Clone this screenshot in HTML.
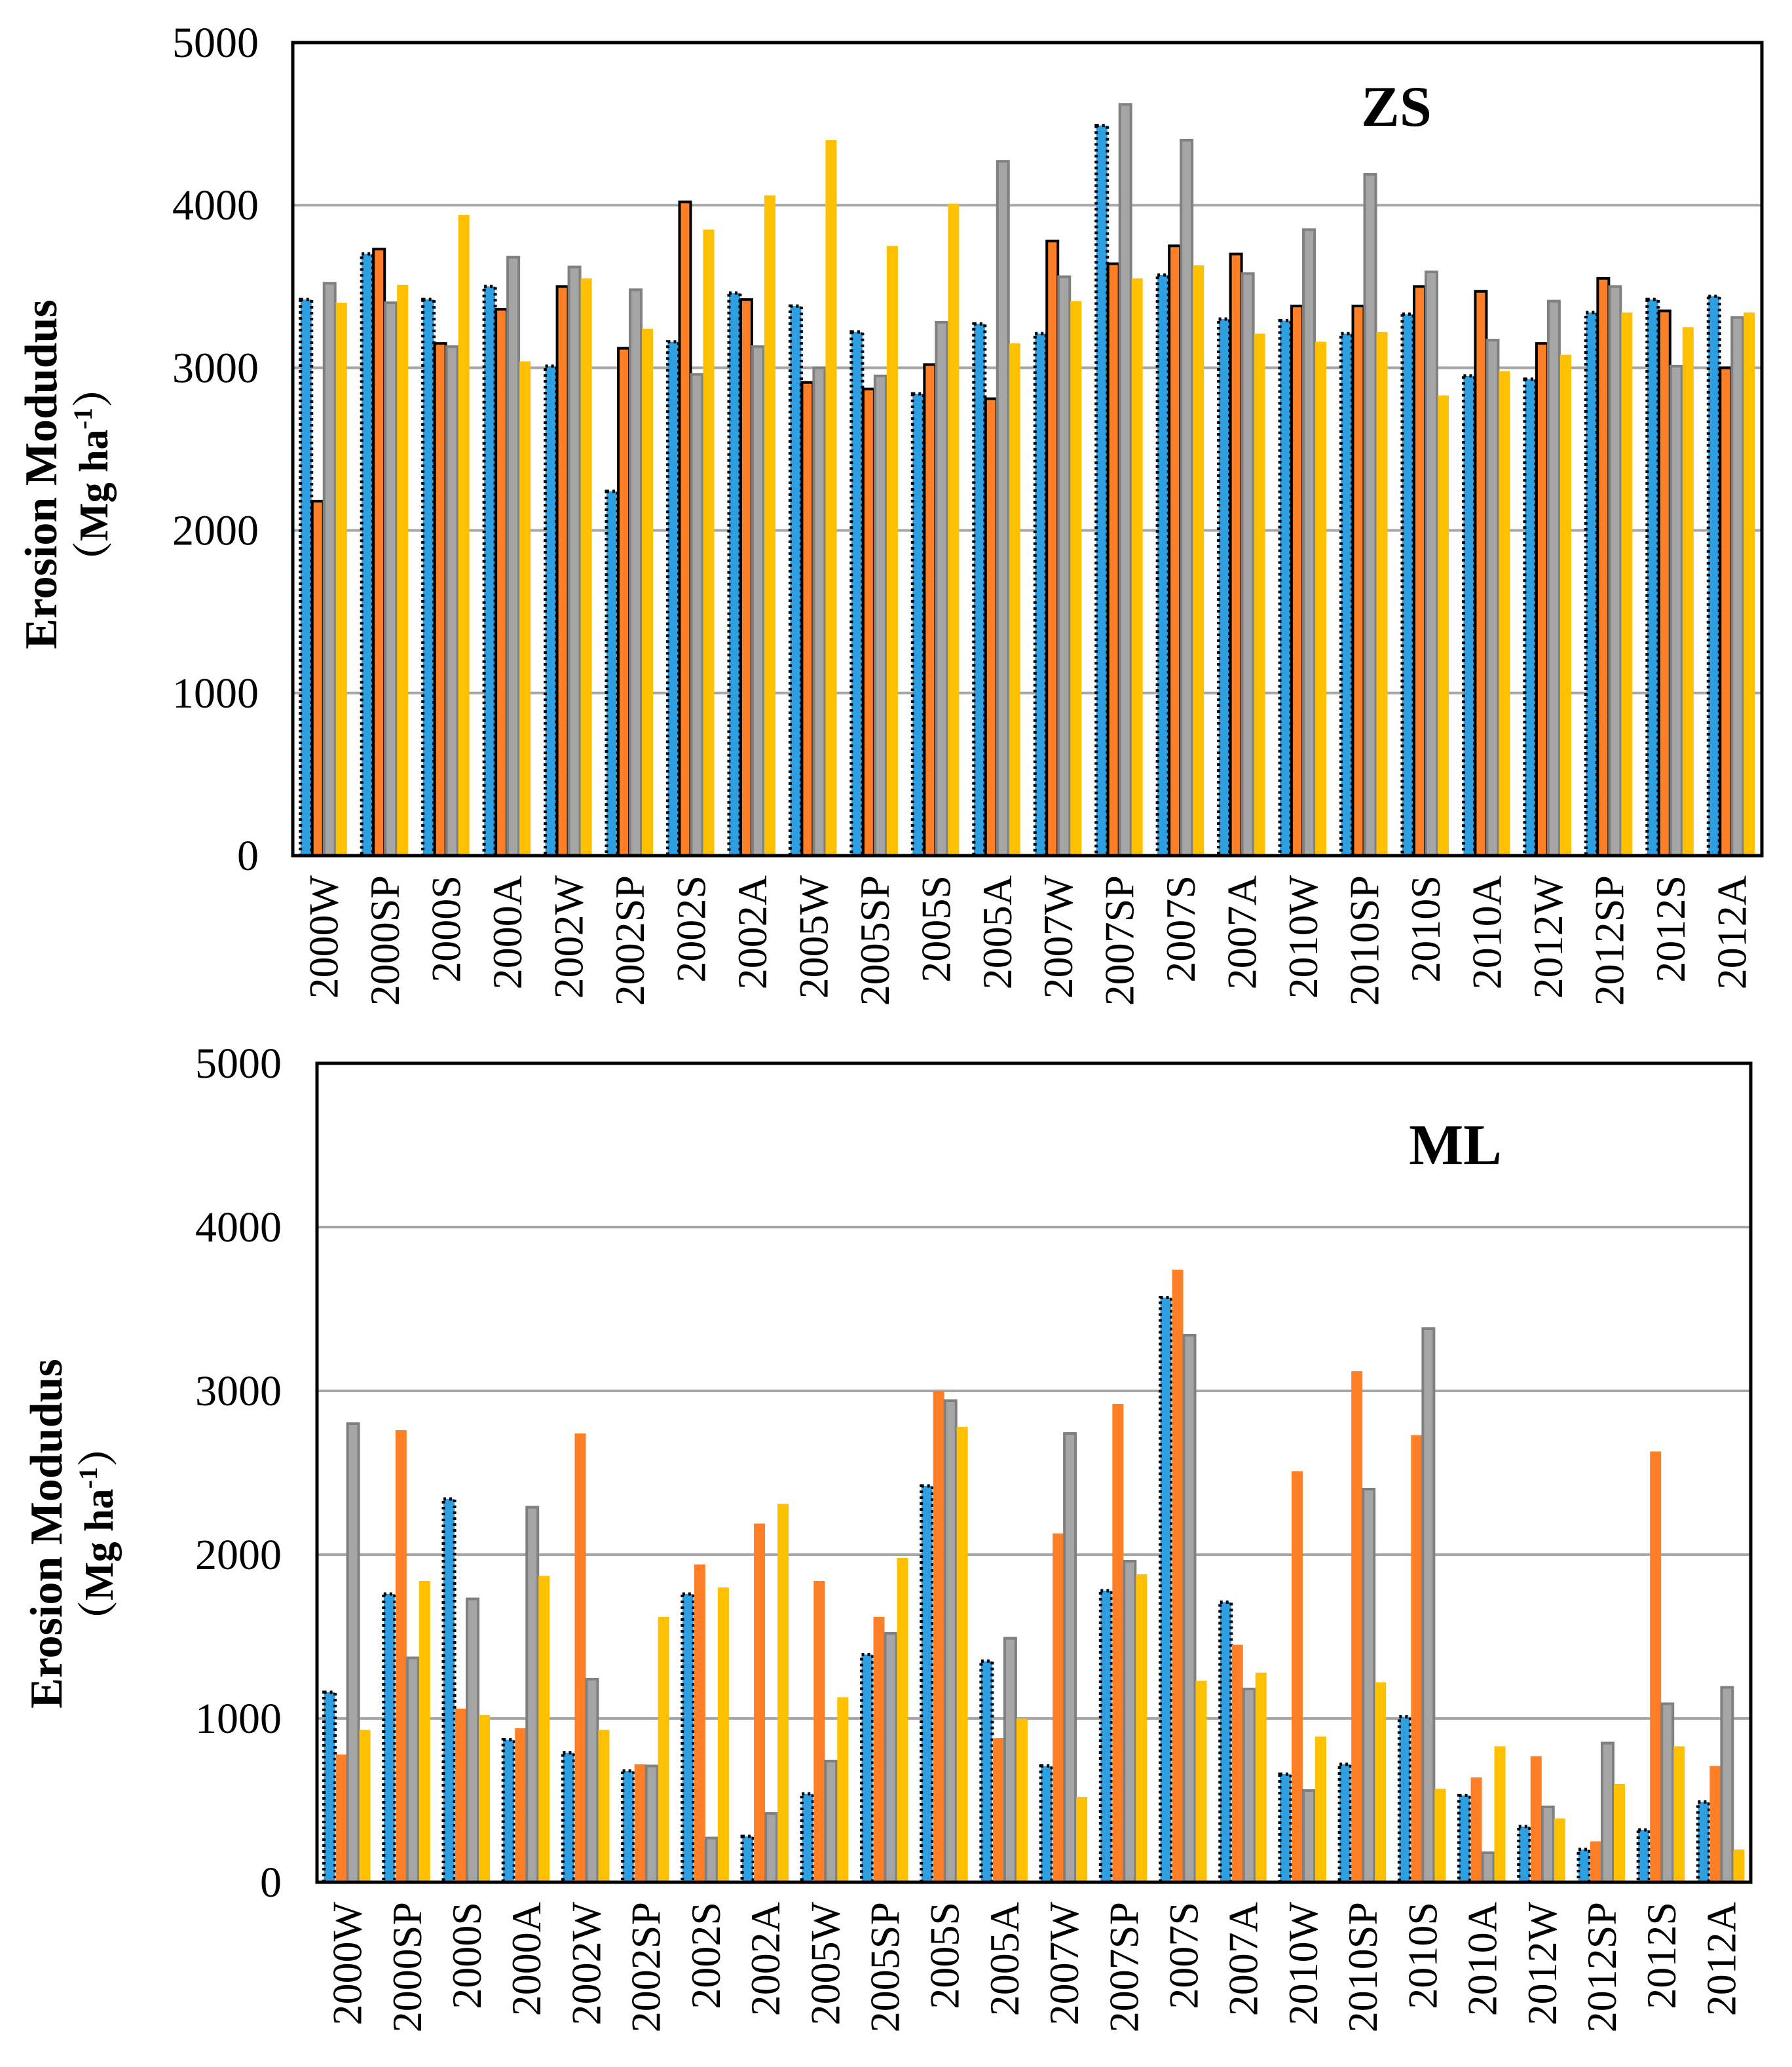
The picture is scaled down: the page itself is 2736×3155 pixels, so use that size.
<!DOCTYPE html>
<html><head><meta charset="utf-8">
<style>
html,body{margin:0;padding:0;background:#fff;}
svg{display:block;}
text{font-family:"Liberation Serif","Noto Serif CJK SC",serif;fill:#000;}
</style></head>
<body>
<svg id="chart" width="2736" height="3155" viewBox="0 0 2736 3155" xmlns="http://www.w3.org/2000/svg">
</svg>
<script>
const categories = ["2000W","2000SP","2000S","2000A","2002W","2002SP","2002S","2002A","2005W","2005SP","2005S","2005A","2007W","2007SP","2007S","2007A","2010W","2010SP","2010S","2010A","2012W","2012SP","2012S","2012A"];
const yTicks = [0,1000,2000,3000,4000,5000];
const zsBlue   = [3420,3700,3420,3500,3010,2240,3160,3460,3380,3220,2840,3270,3210,4490,3570,3300,3290,3210,3330,2950,2930,3340,3420,3440];
const zsOrange = [2180,3730,3150,3360,3500,3120,4020,3420,2910,2870,3020,2810,3780,3640,3750,3700,3380,3380,3500,3470,3150,3550,3350,3000];
const zsGray   = [3520,3400,3130,3680,3620,3480,2960,3130,3000,2950,3280,4270,3560,4620,4400,3580,3850,4190,3590,3170,3410,3500,3010,3310];
const zsYellow = [3400,3510,3940,3040,3550,3240,3850,4060,4400,3750,4010,3150,3410,3550,3630,3210,3160,3220,2830,2980,3080,3340,3250,3340];
const mlBlue   = [1160,1760,2340,870,790,680,1760,280,540,1390,2420,1350,710,1780,3570,1710,660,720,1010,530,340,200,320,490];
const mlOrange = [780,2760,1060,940,2740,720,1940,2190,1840,1620,3000,880,2130,2920,3740,1450,2510,3120,2730,640,770,250,2630,710];
const mlGray   = [2800,1370,1730,2290,1240,710,270,420,740,1520,2940,1490,2740,1960,3340,1180,560,2400,3380,180,460,850,1090,1190];
const mlYellow = [930,1840,1020,1870,930,1620,1800,2310,1130,1980,2780,1000,520,1880,1230,1280,890,1220,570,830,390,600,830,200];

const NS = "http://www.w3.org/2000/svg";
const svg = document.getElementById('chart');
function mk(tag, attrs, parent){
  const e = document.createElementNS(NS, tag);
  for (const k in attrs) e.setAttribute(k, attrs[k]);
  (parent||svg).appendChild(e);
  return e;
}

function drawPanel(cfg){
  const g = mk('g', {});
  
  
  const L = cfg.left, R = cfg.right, T = cfg.top, B = cfg.bottom;
  const yScale = v => B - (v/5000)*(B-T);
  const gw = (R-L)/categories.length;
  const xScale = i => L + gw*i;
  yTicks.forEach(t=>{
    if (t>0 && t<5000){
      const ln = mk('line', {x1:L, x2:R, y1:yScale(t), y2:yScale(t), stroke:'#a6a6a6', 'stroke-width':4}, g);
      
      
    }
    const tx = mk('text', {x:cfg.tickX, y:yScale(t)+22, 'font-size':66, 'text-anchor':'end'}, g);
    
    
    tx.textContent = t;
  });
  const series = cfg.series;
  const bw = 18;
  series.forEach((s, si)=>{
    s.values.forEach((v, i)=>{
      const cx = xScale(i) + gw/2;
      const x = cx - 2*bw + si*bw;
      const y = yScale(v);
      const r = mk('rect', {x:x+1, y:y, width:bw-1, height:B-y, fill:s.fill}, g);
      if (s.stroke){ r.setAttribute('stroke', s.stroke); r.setAttribute('stroke-width', s.sw); if (s.dash) r.setAttribute('stroke-dasharray', s.dash); }
      
      
    });
  });
  const fr = mk('rect', {x:L, y:T, width:R-L, height:B-T, fill:'none', stroke:'#000', 'stroke-width':5}, g);
  
  
  categories.forEach((c,i)=>{
    const cx = xScale(i) + gw/2 + 22;
    const tx = mk('text', {x:0, y:0, 'font-size':64, 'text-anchor':'end', transform:'translate('+cx+','+(B+30)+') rotate(-90)'}, g);
    
    
    tx.textContent = c;
  });
  const pl = mk('text', {x:cfg.labelX, y:cfg.labelY, 'font-size':88, 'font-weight':'bold', 'text-anchor':'middle'}, g);
  
  
  pl.textContent = cfg.label;
  const t1 = mk('text', {x:0, y:0, 'font-size':70, 'font-weight':'bold', 'text-anchor':'middle', transform:'translate('+cfg.titleX+','+cfg.titleY+') rotate(-90)'}, g);
  
  
  t1.textContent = 'Erosion Modudus';
  const t2 = mk('text', {x:0, y:0, 'font-size':62, 'font-weight':'bold', 'text-anchor':'middle', transform:'translate('+(cfg.titleX+78)+','+cfg.titleY+') rotate(-90)'}, g);
  
  
  t2.innerHTML = '（Mg ha<tspan font-size="40" dy="-24">-1</tspan><tspan dy="24">）</tspan>';
}

drawPanel({name:'zs', left:447, right:2690, top:65, bottom:1306, tickX:395, label:'ZS', labelX:2132, labelY:192, titleX:86, titleY:724,
  series:[
    {key:'blue', values:zsBlue, fill:'#2e9fe0', stroke:'#000', sw:5, dash:'4 5'},
    {key:'orange', values:zsOrange, fill:'#ff7f27', stroke:'#000', sw:4},
    {key:'gray', values:zsGray, fill:'#a5a5a5', stroke:'#808080', sw:4},
    {key:'yellow', values:zsYellow, fill:'#ffc000'}
  ]});
drawPanel({name:'ml', left:484, right:2673, top:1623, bottom:2873, tickX:430, label:'ML', labelX:2222, labelY:1777, titleX:94, titleY:2341,
  series:[
    {key:'blue', values:mlBlue, fill:'#2e9fe0', stroke:'#000', sw:5, dash:'4 5'},
    {key:'orange', values:mlOrange, fill:'#ff7f27'},
    {key:'gray', values:mlGray, fill:'#a5a5a5', stroke:'#808080', sw:4},
    {key:'yellow', values:mlYellow, fill:'#ffc000'}
  ]});
</script>
</body></html>
